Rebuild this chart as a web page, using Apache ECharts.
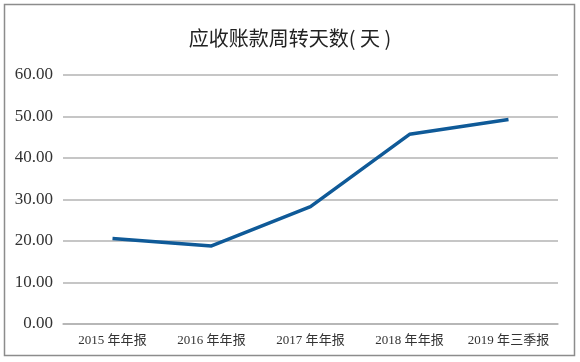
<!DOCTYPE html>
<html><head><meta charset="utf-8">
<script src="https://cdn.jsdelivr.net/npm/echarts@6/dist/echarts.min.js"></script>
<style>html,body{margin:0;padding:0;background:#fff}#c{width:580px;height:362px}</style>
</head><body><div id="c"></div>
<script>
const categories = ['2015 年年报','2016 年年报','2017 年年报','2018 年年报','2019 年三季报'];
const values = [20.6, 18.8, 28.3, 45.7, 49.3];
const yTicks = {min: 0, max: 60, interval: 10};
const titleText = '应收账款周转天数( 天 )';

const chart = echarts.init(document.getElementById('c'), null, {renderer: 'canvas'});
chart.setOption({
  animation: false,
  backgroundColor: '#fff',
  title: {
    text: titleText, left: 'center', top: 23,
    textStyle: {fontFamily: '"Noto Sans CJK SC", sans-serif', fontSize: 20, fontWeight: 'normal', color: '#222'}
  },
  graphic: [{
    type: 'rect', shape: {x: 4.5, y: 4.5, width: 570, height: 351},
    style: {fill: 'none', stroke: '#8c8c8c', lineWidth: 1.5}, silent: true
  }],
  grid: {left: 63, right: 22, top: 75, bottom: 38},
  xAxis: {
    type: 'category', data: categories, boundaryGap: true,
    axisLine: {lineStyle: {color: '#b3b3b3', width: 1.5}},
    axisTick: {show: false},
    axisLabel: {color: '#333', fontSize: 13, margin: 10, interval: 0,
      fontFamily: '"Liberation Serif", "Noto Sans CJK SC", serif'}
  },
  yAxis: {
    type: 'value', min: yTicks.min, max: yTicks.max, interval: yTicks.interval,
    axisLine: {show: false}, axisTick: {show: false},
    splitLine: {lineStyle: {color: '#b3b3b3', width: 1.5}},
    axisLabel: {color: '#333', fontSize: 17, margin: 10,
      fontFamily: '"Liberation Serif", serif',
      formatter: v => v.toFixed(2)}
  },
  series: [{
    type: 'line', data: values, symbol: 'none',
    lineStyle: {color: '#0f5a98', width: 3.5}
  }]
});
</script></body></html>
